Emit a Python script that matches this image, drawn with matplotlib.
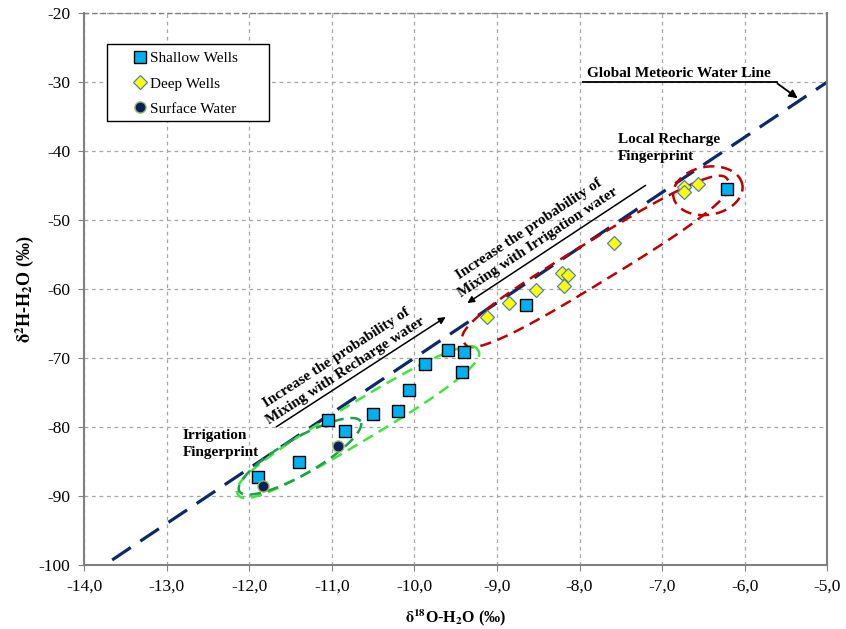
import numpy as np
import matplotlib
matplotlib.use("Agg")
import matplotlib.pyplot as plt
from matplotlib.patches import Rectangle
from matplotlib.ticker import FuncFormatter, MultipleLocator

plt.rcParams['font.family'] = ['Liberation Serif', 'DejaVu Serif']
plt.rcParams['mathtext.fontset'] = 'stix'

# ---- data ----
shallow_d18o = [-11.89, -11.40, -11.05, -10.84, -10.50, -10.20, -10.07, -9.87,
                -9.59, -9.40, -9.42, -8.65, -6.21]
shallow_d2h = [-87.2, -85.1, -79.0, -80.6, -78.1, -77.7, -74.7, -70.9,
               -68.9, -69.2, -72.1, -62.3, -45.5]

deep_d18o = [-6.74, -6.73, -6.57, -7.58, -8.21, -8.14, -8.19, -8.53, -8.86, -9.12]
deep_d2h = [-45.2, -45.9, -44.8, -53.4, -57.7, -58.0, -59.5, -60.2, -62.0, -64.0]

surface_d18o = [-10.92, -11.83]
surface_d2h = [-82.7, -88.5]

# global meteoric water line: d2H = 8 * d18O + 10
gmwl_x = np.array([-14.0, -5.0])
gmwl_y = 8 * gmwl_x + 10

# ---- figure ----
fig = plt.figure(figsize=(8.46, 6.29), dpi=100)
ax = fig.add_axes([0.0993, 0.1018, 0.8786, 0.8775])
ax.set_xlim(-14, -5)
ax.set_ylim(-100, -20)

ax.xaxis.set_major_locator(MultipleLocator(1))
ax.yaxis.set_major_locator(MultipleLocator(10))
ax.xaxis.set_major_formatter(FuncFormatter(lambda v, p: ("%.1f" % v).replace(".", ",")))
ax.yaxis.set_major_formatter(FuncFormatter(lambda v, p: "%d" % v))
ax.tick_params(direction='out', length=4, color='#808080', labelsize=12.5, pad=6)

ax.grid(True, color='#a6a6a6', linestyle=(0, (3, 3)), linewidth=0.9)
ax.set_axisbelow(True)
for s in ['left', 'bottom', 'right']:
    ax.spines[s].set_color('#808080')
    ax.spines[s].set_linewidth(1.5)
ax.spines['top'].set_color('#808080')
ax.spines['top'].set_linestyle((0, (3, 3)))
ax.spines['top'].set_linewidth(1.0)

# GMWL
ax.plot(gmwl_x, gmwl_y, color='#0b2a66', linewidth=2.3, dashes=(7, 3.6), zorder=2)

# px per data unit, so the loops look right on screen
pos = ax.get_position()
W, H = fig.get_size_inches() * fig.dpi
sx = pos.width * W / 9.0
sy = pos.height * H / 80.0


def loop(cx, cy, a, b, ang, n=2.0, **kw):
    t = np.linspace(0, 2 * np.pi, 300)
    c, s = np.cos(t), np.sin(t)
    u = a * np.sign(c) * np.abs(c) ** (2.0 / n)
    v = b * np.sign(s) * np.abs(s) ** (2.0 / n)
    r = np.deg2rad(ang)
    px = u * np.cos(r) - v * np.sin(r)
    py = u * np.sin(r) + v * np.cos(r)
    ax.plot(cx + px / sx, cy + py / sy, **kw)


dash = dict(linewidth=1.8, dashes=(4.5, 2.7), zorder=3)
loop(-6.446, -45.76, 35, 24, 10, color='#c00000', **dash)
loop(-7.80, -56.0, 155, 20.5, 31.5, n=2.8, color='#c00000', **dash)
loop(-10.683, -79.3, 140, 19, 31, n=2.6, color='#3ee63e', **dash)
loop(-11.385, -84.25, 70, 18, 30, color='#1ea04c', **dash)

# points
ax.plot(shallow_d18o, shallow_d2h, 's', ms=8.5, mfc='#00b0f0', mec='black', mew=1.0,
        linestyle='none', label='Shallow Wells', zorder=5)
ax.plot(deep_d18o, deep_d2h, 'D', ms=7, mfc='#ffff00', mec='#4f81bd', mew=0.9,
        linestyle='none', label='Deep Wells', zorder=5)
ax.plot(surface_d18o, surface_d2h, 'o', ms=8, mfc='#0d1f5c', mec='#9bbb59', mew=1.0,
        linestyle='none', label='Surface Water', zorder=5)

# legend: wide box drawn by hand, entries placed inside
ax.add_patch(Rectangle((0.031, 0.804), 0.218, 0.140, transform=ax.transAxes,
                       facecolor='white', edgecolor='black', linewidth=1.0, zorder=6))
leg = ax.legend(loc='center left', bbox_to_anchor=(0.067, 0.872), borderaxespad=0,
                fontsize=11, frameon=False, handlelength=0.8, handletextpad=0.25,
                borderpad=0, labelspacing=0.75, numpoints=1)
leg.set_zorder(7)

# axis labels
ax.set_xlabel(r'$\mathbf{\delta}$$^{\mathbf{18}}$O-H$_{\mathbf{2}}$O (‰)', fontsize=11.5,
              fontweight='bold', labelpad=9)
ax.set_ylabel(r'$\mathbf{\delta}$$^{\mathbf{2}}$H-H$_{\mathbf{2}}$O (‰)', fontsize=13,
              fontweight='bold', labelpad=2)

# annotations
ax.text(-7.911, -28.7, 'Global Meteoric Water Line', fontsize=11, fontweight='bold',
        ha='left', va='center')
ax.plot([-7.959, -5.61], [-29.99, -29.99], color='black', linewidth=1.3)
ax.annotate('', xy=(-5.332, -32.59), xytext=(-5.63, -29.99),
            arrowprops=dict(arrowstyle='-|>', color='black', lw=1.3, mutation_scale=12))

ax.text(-7.535, -39.54, 'Local Recharge\nFingerprint', fontsize=11, fontweight='bold',
        ha='left', va='center', linespacing=1.45)
ax.text(-12.81, -82.5, 'Irrigation\nFingerprint', fontsize=11, fontweight='bold',
        ha='left', va='center', linespacing=1.45)

ax.text(-10.89, -70.94, 'Increase the probability of\nMixing with Recharge water',
        fontsize=11, fontweight='bold', ha='center', va='center', rotation=33,
        rotation_mode='anchor', linespacing=1.35)
ax.annotate('', xy=(-9.593, -63.85), xytext=(-11.70, -80.2),
            arrowprops=dict(arrowstyle='-|>', color='black', lw=1.1, mutation_scale=10))

ax.text(-8.552, -52.27, 'Increase the probability of\nMixing with Irrigation water',
        fontsize=11, fontweight='bold', ha='center', va='center', rotation=33.5,
        rotation_mode='anchor', linespacing=1.35)
ax.annotate('', xy=(-9.387, -62.26), xytext=(-7.172, -44.75),
            arrowprops=dict(arrowstyle='-|>', color='black', lw=1.1, mutation_scale=10))

fig.savefig('out.png', dpi=100)
